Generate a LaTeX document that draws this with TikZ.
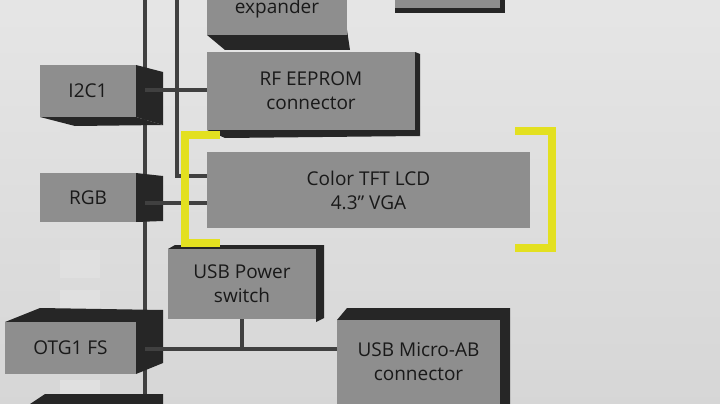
\documentclass[tikz,border=0pt]{standalone}
\usepackage{fontspec}
\setmainfont{Open Sans}
\begin{document}
\begin{tikzpicture}[x=1pt,y=-1pt,
  face/.style={fill=boxgray,draw=none,font=\fontsize{19}{24}\selectfont,text=black!90,align=center,inner sep=0pt},
  dark/.style={fill=black!85,draw=none},
  bus/.style={draw=black!75,line width=4pt},
  ybr/.style={draw=ylw,line width=8pt,line cap=butt}]
\definecolor{boxgray}{HTML}{8E8E8E}
\definecolor{ylw}{HTML}{E3E020}
\useasboundingbox (0,0) rectangle (720,404);
\shade[top color=black!10,bottom color=black!16] (0,0) rectangle (720,404);
\foreach \y in {130,250,290,380}{\fill[black!12] (60,\y) rectangle (100,\y+28);}
% buses
\coordinate (b1t) at (145,0); \coordinate (b1b) at (145,404);
\draw[bus] (b1t) -- (b1b);
\coordinate (b2t) at (177,0); \coordinate (b2b) at (177,178);
\draw[bus] (b2t) -- (b2b);
% boxes
\fill[dark] (136,65) -- (163,72) -- (163,125) -- (136,117) -- cycle;
\fill[dark] (40,117) -- (136,117) -- (163,125) -- (75,126) -- cycle;
\node[face,minimum width=96pt,minimum height=52pt] (i2c) at (88,91) {I2C1};
\fill[dark] (136,173) -- (163,176) -- (163,221) -- (136,222) -- cycle;
\node[face,minimum width=96pt,minimum height=49pt] (rgb) at (88,197.5) {RGB};
\fill[dark] (5,322) -- (40,308) -- (163,310) -- (163,363) -- (136,374) -- (136,322) -- cycle;
\node[face,minimum width=131pt,minimum height=52pt] (otg) at (70.5,348) {OTG1 FS};
\fill[dark] (30,404) -- (45,394) -- (163,394) -- (163,404) -- cycle;
% right column
\fill[dark] (207,35) -- (347,30) -- (350,50) -- (225,50) -- cycle;
\node[face,minimum width=140pt,minimum height=35pt] (exp) at (277,17.5) {};
\node[font=\fontsize{19}{24}\selectfont,text=black!90,anchor=base] at (277,14) {expander};
\fill[dark] (395,0) rectangle (505,13);
\fill[boxgray] (395,0) rectangle (500,8);
\fill[dark] (207,130) -- (415,128) -- (420,136) -- (225,138) -- cycle;
\fill[dark] (415,52) -- (420,54) -- (420,136) -- (415,130) -- cycle;
\node[face,minimum width=208pt,minimum height=78pt] (rf) at (311,91) {RF EEPROM\\connector};
\node[face,minimum width=323pt,minimum height=76pt] (lcd) at (368.5,190) {Color TFT LCD\\4.3” VGA};
\fill[dark] (168,249) -- (175,245) -- (324,245) -- (324,318) -- (316,322) -- (316,249) -- cycle;
\node[face,minimum width=148pt,minimum height=70pt] (usbp) at (242,284) {USB Power\\switch};
\fill[dark] (337,320) -- (347,308) -- (510,308) -- (510,404) -- (500,404) -- (500,320) -- cycle;
\node[face,minimum width=163pt,minimum height=84pt] (usbm) at (418.5,362) {USB Micro-AB\\connector};
% connectors
\draw[bus] (145,90) -- (rf.west |- 0,90);
\draw[bus] (145,203) -- (lcd.west |- 0,203);
\draw[bus] (177,176) -- (lcd.west |- 0,176);
\draw[bus] (usbp.south) -- (usbp.south |- 0,349);
\draw[bus] (145,349) -- (usbm.west |- 0,349);
% brackets
\draw[ybr] (220,135) -- (185,135) -- (185,243) -- (220,243);
\draw[ybr] (515,131) -- (552,131) -- (552,248) -- (515,248);
\end{tikzpicture}
\end{document}
